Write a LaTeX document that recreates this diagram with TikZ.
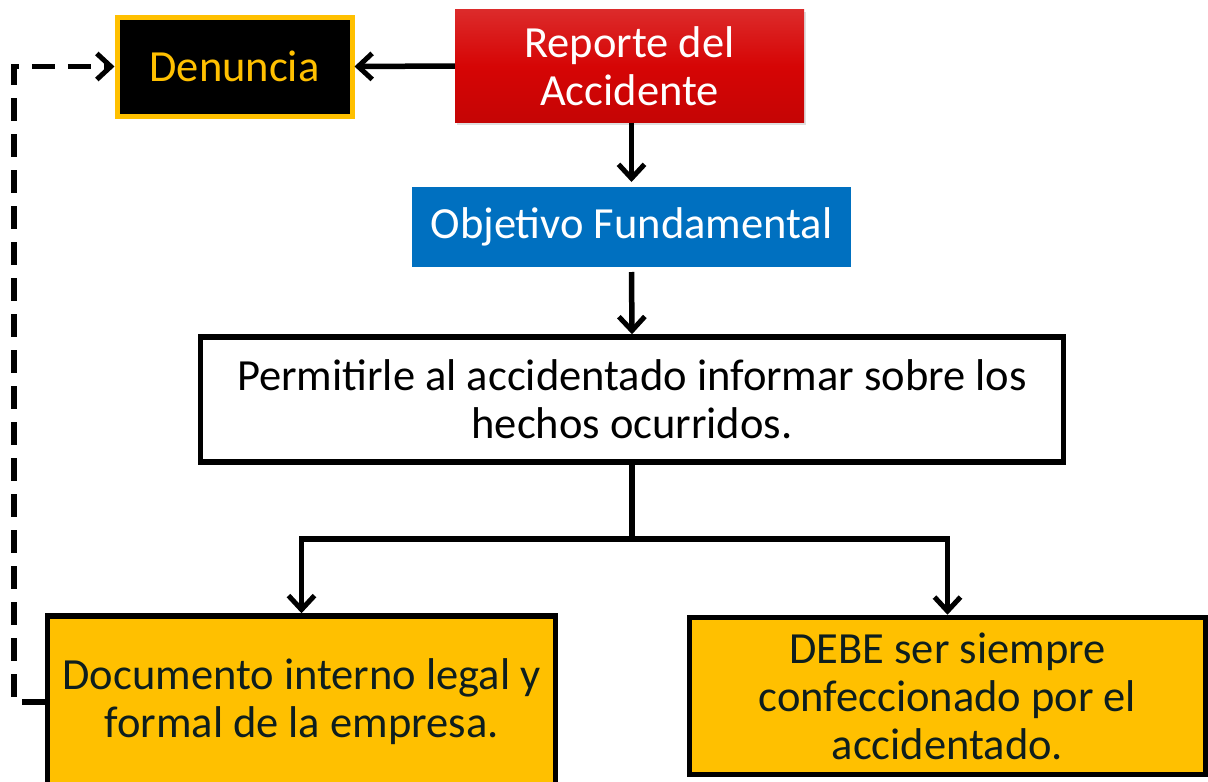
\documentclass[tikz,border=0pt]{standalone}
\usepackage{fontspec}
\setmainfont{Carlito}
\usetikzlibrary{arrows.meta,shadows}
\definecolor{gold}{HTML}{FFC000}
\definecolor{repred}{HTML}{D60505}
\definecolor{objblue}{HTML}{0070C0}
\definecolor{darktxt}{HTML}{0E1E1E}
\tikzset{
  box/.style={rectangle, align=center, inner sep=0pt, font=\fontsize{44.5}{48}\selectfont},
  shad/.style={drop shadow={opacity=0.25, shadow xshift=2pt, shadow yshift=-2pt}},
  conn/.style={line width=5.5pt, -{Straight Barb[length=14pt,width=26pt,line width=5pt]}},
  dashconn/.style={conn, dash pattern=on 23pt off 13pt},
}
\begin{document}
\begin{tikzpicture}[x=1pt,y=-1pt]
\useasboundingbox (0,0) rectangle (1208,782);
\clip (0,0) rectangle (1208,782);
\fill[white] (0,0) rectangle (1208,782);

\node[box, shad, fill=black, draw=gold, line width=5pt, minimum width=235pt, minimum height=99pt, text=gold] (den) at (234.5,66.5) {Denuncia};
\node[box, shad, top color=repred!85!white, bottom color=repred!92!black, middle color=repred, minimum width=349pt, minimum height=113pt, text=white] (rep) at (629.5,66) {Reporte del\\Accidente};
\node[box, shad, fill=objblue, draw=white, line width=5pt, minimum width=444pt, minimum height=85pt, text=white] (obj) at (631.5,227) {Objetivo Fundamental};
\node[box, shad, fill=white, draw=black, line width=5.5pt, minimum width=863pt, minimum height=125pt, text=black] (perm) at (632,399.5) {Permitirle al accidentado informar sobre los\\hechos ocurridos.};
\node[box, shad, fill=gold, draw=black, line width=5.5pt, minimum width=508pt, minimum height=172pt, text=darktxt] (left) at (301.5,702) {Documento interno legal y\\formal de la empresa.};
\node[box, shad, fill=gold, draw=black, line width=5.5pt, minimum width=516pt, minimum height=157pt, text=darktxt] (right) at (947.5,696) {DEBE ser siempre\\confeccionado por el\\accidentado.};

\coordinate (split) at (632,539);
\draw[conn] (rep.west) -- (den.east);
\draw[conn] (rep.south -| obj.north) -- (obj.north);
\draw[conn] (obj.south) -- (perm.north);
\draw[line width=5.5pt] (perm.south) -- (split);
\draw[conn] (split) -| (left.north);
\draw[conn] (split) -| (right.north);
\coordinate (dl) at (14,702);
\draw[dashconn] (left.west) -- (dl) |- (den.west);
\end{tikzpicture}
\end{document}
